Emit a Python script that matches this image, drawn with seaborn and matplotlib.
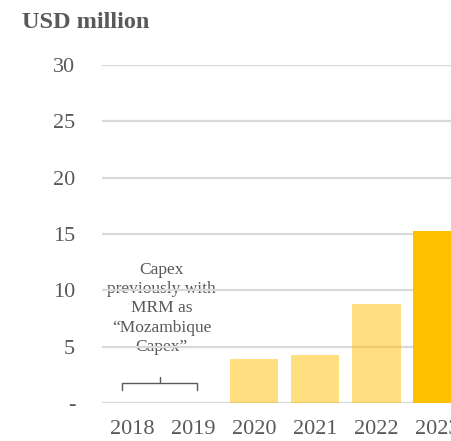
import matplotlib
matplotlib.use("Agg")
import matplotlib.pyplot as plt
import seaborn as sns
import pandas as pd

years = ["2018", "2019", "2020", "2021", "2022", "2023"]
capex = [0.0, 0.0, 3.9, 4.3, 8.75, 15.25]
bar_alpha = [0.5, 0.5, 0.5, 0.5, 0.5, 1.0]
y_ticks = [0, 5, 10, 15, 20, 25, 30]
y_tick_labels = ["-", "5", "10", "15", "20", "25", "30"]
note_text = "Capex\npreviously with\nMRM as\n\u201cMozambique\nCapex\u201d"

GOLD = "#FFC000"
GREY_TEXT = "#595959"
GRID = "#D9D9D9"

sns.set_theme(style="white")
plt.rcParams["font.family"] = ["Liberation Serif", "DejaVu Serif"]

df = pd.DataFrame({"year": years, "capex": capex})

fig = plt.figure(figsize=(4.52, 4.41), dpi=100)
ax = fig.add_axes([0.2246, 0.0862, 0.81, 0.7664])

sns.barplot(data=df, x="year", y="capex", hue="year",
            palette=[GOLD] * len(years), legend=False, saturation=1,
            width=0.8, ax=ax, zorder=2)
for patch, a in zip(ax.patches, bar_alpha):
    patch.set_alpha(a)
    patch.set_linewidth(0)

ax.set_xlim(-0.5, 5.5)
ax.set_ylim(0, 30)
ax.set_yticks(y_ticks)
ax.set_yticklabels(y_tick_labels)
ax.set_axisbelow(True)
ax.yaxis.grid(True, color=GRID, linewidth=1.6)
ax.xaxis.grid(False)
for s in ax.spines.values():
    s.set_visible(False)
ax.tick_params(axis="y", length=0, pad=19, labelsize=16, labelcolor=GREY_TEXT)
ax.tick_params(axis="x", length=0, pad=12, labelsize=16, labelcolor=GREY_TEXT)
ax.set_xlabel("")
ax.set_ylabel("")

# note over the two years without a bar
ax.text(0.48, 8.4, note_text, ha="center", va="center", fontsize=12.5,
        linespacing=1.27, color=GREY_TEXT, zorder=0.3)

# curly bracket spanning 2018-2019
bx0, bx1, bxm = -0.16, 1.06, 0.46
yb, ye, yt = 1.8, 1.15, 2.35
ax.plot([bx0, bx0, bx1, bx1], [ye, yb, yb, ye], color=GREY_TEXT, lw=1.0,
        solid_joinstyle="round", zorder=3)
ax.plot([bxm, bxm], [yb, yt], color=GREY_TEXT, lw=1.0, zorder=3)

fig.text(22 / 452, 1 - 23 / 441, "USD million", ha="left", va="center",
         fontsize=17.5, fontweight="bold", color=GREY_TEXT)

fig.savefig("out.png", dpi=100)
